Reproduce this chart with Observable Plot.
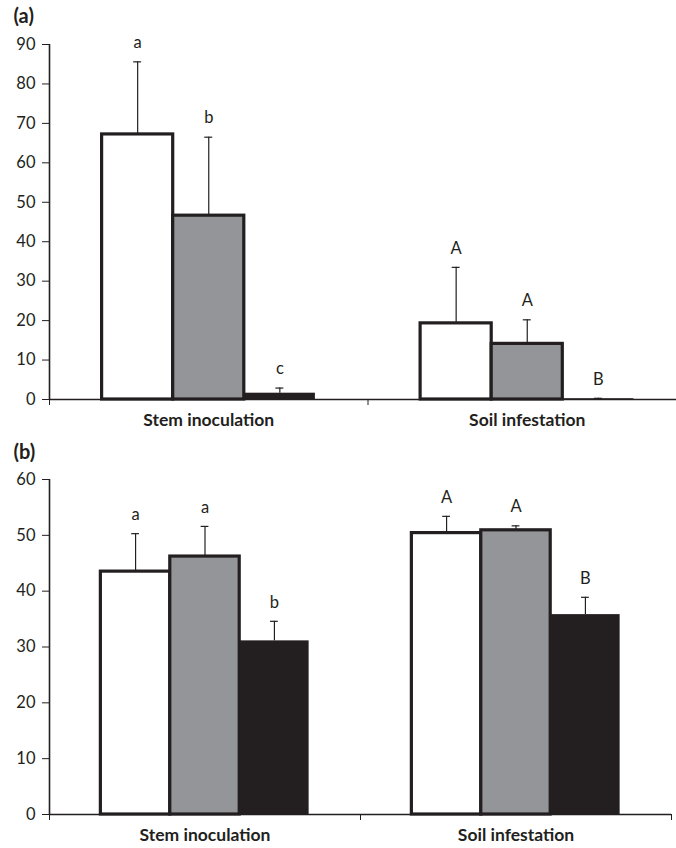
<!DOCTYPE html>
<html>
<head>
<meta charset="utf-8">
<script src="https://cdn.jsdelivr.net/npm/d3@7"></script>
<script src="https://cdn.jsdelivr.net/npm/@observablehq/plot@0.6"></script>
<style>
  html, body { margin: 0; padding: 0; background: #ffffff; overflow: hidden; }
  #chart { width: 676px; height: 848px; overflow: hidden; }
  #chart svg { display: block; }
</style>
</head>
<body>
<div id="chart"></div>
<script>
// ---- data ----
const categories = ["Stem inoculation", "Soil infestation"];
const treatments = ["white", "grey", "black"];
const fills = ["#ffffff", "#939598", "#231f20"];

// panel (a)
const aStemMean = [67.2, 46.6, 1.6];
const aStemSE = [18.4, 19.9, 1.3];
const aStemLetters = ["a", "b", "c"];
const aSoilMean = [19.3, 14.1, 0.2];
const aSoilSE = [14.2, 6.1, 0.1];
const aSoilLetters = ["A", "A", "B"];
const aYTicks = [0, 10, 20, 30, 40, 50, 60, 70, 80, 90];

// panel (b)
const bStemMean = [43.5, 46.2, 31.1];
const bStemSE = [6.8, 5.4, 3.5];
const bStemLetters = ["a", "a", "b"];
const bSoilMean = [50.4, 50.9, 35.8];
const bSoilSE = [3.0, 0.8, 3.1];
const bSoilLetters = ["A", "A", "B"];
const bYTicks = [0, 10, 20, 30, 40, 50, 60];

// ---- helpers ----
const ink = "#231f20";
const font = "Lato, 'Open Sans', sans-serif";
const sub = d3.scaleBand(treatments, [0, 1]).paddingInner(0).paddingOuter(0.74);
const bw = sub.bandwidth();
const capHalf = 0.0125;

function rowsOf(groups) {
  const rows = [];
  groups.forEach((g, ci) => {
    g.mean.forEach((m, ti) => {
      const x1 = ci + sub(treatments[ti]);
      rows.push({ci, ti, mean: m, top: m + g.se[ti], letter: g.letters[ti],
                 x1, x2: x1 + bw, xc: x1 + bw / 2, fill: fills[ti]});
    });
  });
  return rows;
}

function panel({rows, yTicks, yMax, label, height, marginTop, marginBottom, xRange, labelDy}) {
  const outlined = rows.filter(d => d.ti < 2);
  const solid = rows.filter(d => d.ti === 2);
  return Plot.plot({
    width: 676,
    height,
    marginTop,
    marginBottom,
    marginLeft: 49,
    marginRight: Math.max(0, 676 - xRange[1]),
    x: {type: "linear", domain: [0, 2], range: xRange, axis: null},
    y: {domain: [0, yMax], axis: null},
    color: {type: "identity"},
    style: {fontFamily: font, color: ink, background: "white"},
    marks: [
      Plot.rectY(outlined, {x1: "x1", x2: "x2", y1: 0, y2: "mean", fill: "fill", stroke: ink, strokeWidth: 3.2}),
      Plot.rectY(solid, {x1: "x1", x2: "x2", y1: 0, y2: "mean", fill: "fill"}),
      Plot.ruleX(rows, {x: "xc", y1: "mean", y2: "top", stroke: ink, strokeWidth: 1.2}),
      Plot.ruleY(rows, {y: "top", x1: d => d.xc - capHalf, x2: d => d.xc + capHalf, stroke: ink, strokeWidth: 1.2}),
      Plot.text(rows, {x: "xc", y: "top", text: "letter", dy: -19, fontSize: 16.5, fill: ink}),
      Plot.ruleY([0], {stroke: ink, strokeWidth: 1.6}),
      Plot.ruleX([0], {stroke: ink, strokeWidth: 1.6}),
      Plot.axisY(yTicks, {tickSize: 7, tickPadding: 7, fontSize: 16.5, label: null, stroke: ink, fill: ink}),
      Plot.axisX([0, 1, 2], {tickSize: 6, tickFormat: () => "", label: null, stroke: ink}),
      Plot.axisX([0.5, 1.5], {tickSize: 0, tickPadding: 14, tickFormat: v => categories[Math.floor(v)],
                              fontSize: 17.5, fontWeight: "bold", label: null, fill: ink}),
      Plot.text([label], {frameAnchor: "top-left", lineAnchor: "middle", dx: -36, dy: labelDy, fontSize: 20,
                          fontWeight: "bold", textAnchor: "start", fill: ink})
    ]
  });
}

const chart = document.getElementById("chart");
chart.append(panel({
  rows: rowsOf([
    {mean: aStemMean, se: aStemSE, letters: aStemLetters},
    {mean: aSoilMean, se: aSoilSE, letters: aSoilLetters}
  ]),
  yTicks: aYTicks, yMax: 90, label: "(a)",
  height: 430, marginTop: 44, marginBottom: 31, xRange: [49, 686], labelDy: -28
}));
chart.append(panel({
  rows: rowsOf([
    {mean: bStemMean, se: bStemSE, letters: bStemLetters},
    {mean: bSoilMean, se: bSoilSE, letters: bSoilLetters}
  ]),
  yTicks: bYTicks, yMax: 60, label: "(b)",
  height: 418, marginTop: 49, marginBottom: 34, xRange: [49, 671], labelDy: -27
}));
</script>
</body>
</html>
